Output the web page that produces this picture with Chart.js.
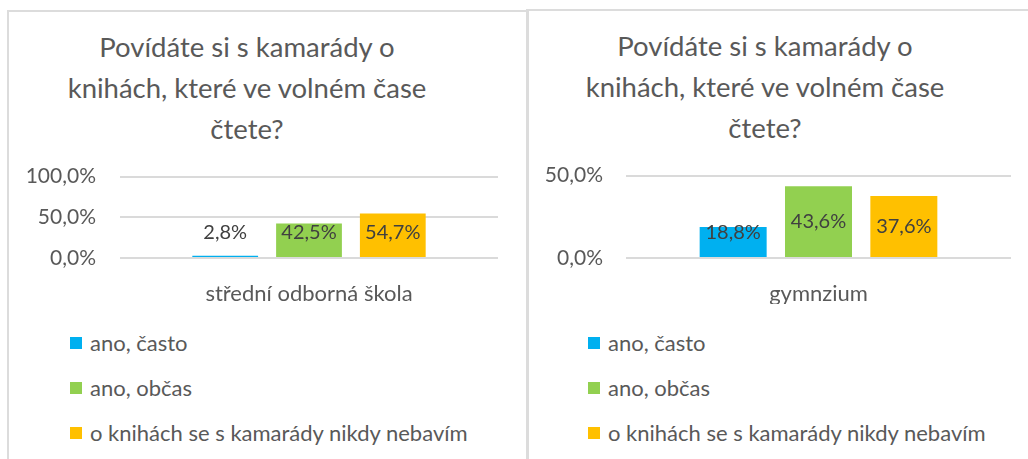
<!DOCTYPE html>
<html>
<head>
<meta charset="utf-8">
<script src="https://cdn.jsdelivr.net/npm/chart.js@4"></script>
<style>
  html, body { margin: 0; padding: 0; background: #fff; width: 1028px; height: 459px; overflow: hidden; position: relative; font-family: Lato, "Noto Sans", sans-serif; }
  .panel { position: absolute; border: 2px solid #DCDCDC; border-bottom: none; box-sizing: border-box; }
  .title { position: absolute; width: 460px; text-align: center; color: #595959; font-size: 27.5px; line-height: 41px; }
  .cv { position: absolute; }
  .legend { position: absolute; color: #595959; font-size: 22px; }
  .legend .item { position: absolute; white-space: nowrap; height: 26px; line-height: 26px; }
  .legend .box { position: absolute; left: 0; top: 7px; width: 12px; height: 12px; }
  .legend .txt { position: absolute; left: 20px; top: 0; }
</style>
</head>
<body>
<div class="panel" style="left:7px; top:10px; width:522px; height:460px;"></div>
<div class="panel" style="left:526px; top:9px; width:520px; height:460px; border-right:none;"></div>

<div class="title" id="title1" style="left:17px; top:26px;"></div>
<div class="title" id="title2" style="left:535px; top:25px;"></div>

<canvas class="cv" id="c1" width="515" height="170" style="left:10px; top:140px; width:515px; height:170px;"></canvas>
<canvas class="cv" id="c2" width="499" height="170" style="left:529px; top:140px; width:499px; height:170px;"></canvas>

<div class="legend" id="leg1" style="left:70px; top:0;"></div>
<div class="legend" id="leg2" style="left:588px; top:0;"></div>

<script>
// ---- data ----
const titleLines = ["Povídáte si s kamarády o", "knihách, které ve volném čase", "čtete?"];
const seriesNames = ["ano, často", "ano, občas", "o knihách se s kamarády nikdy nebavím"];
const seriesColors = ["#00B0F0", "#92D050", "#FFC000"];
const categoriesLeft = ["střední odborná škola"];
const categoriesRight = ["gymnzium"];
const valuesLeft = [2.8, 42.5, 54.7];
const valuesRight = [18.8, 43.6, 37.6];
const yMaxLeft = 100;
const yMaxRight = 50;
const yStep = 50;

// ---- titles & legends (HTML text) ----
function fillTitle(id) {
  document.getElementById(id).innerHTML = titleLines.map(t => '<div>' + t + '</div>').join('');
}
fillTitle('title1'); fillTitle('title2');

function fillLegend(id) {
  const el = document.getElementById(id);
  const centers = [343, 388, 433];
  seriesNames.forEach((n, i) => {
    const it = document.createElement('div');
    it.className = 'item';
    it.style.top = (centers[i] - 13) + 'px';
    it.innerHTML = '<span class="box" style="background:' + seriesColors[i] + '"></span><span class="txt">' + n + '</span>';
    el.appendChild(it);
  });
}
fillLegend('leg1'); fillLegend('leg2');

const fmt = v => v.toFixed(1).replace('.', ',') + '%';

const labelPlugin = {
  id: 'barLabels',
  afterDatasetsDraw(chart) {
    const ctx = chart.ctx;
    ctx.save();
    ctx.font = '20px Lato, "Noto Sans", sans-serif';
    ctx.fillStyle = '#404040';
    ctx.textAlign = 'center';
    ctx.textBaseline = 'middle';
    chart.data.datasets.forEach((ds, di) => {
      const meta = chart.getDatasetMeta(di);
      meta.data.forEach((bar, i) => {
        const y = Math.min((bar.y + bar.base) / 2, bar.base - 24);
        ctx.fillText(fmt(ds.data[i]), bar.x, y);
      });
    });
    ctx.restore();
  }
};

function makeChart(id, cats, vals, yMax, pad, yAxisWidth, tickPad) {
  return new Chart(document.getElementById(id), {
    type: 'bar',
    data: {
      labels: cats,
      datasets: seriesNames.map((n, i) => ({
        label: n,
        data: [vals[i]],
        backgroundColor: seriesColors[i],
        borderWidth: 0,
        categoryPercentage: 0.665,
        barPercentage: 0.785
      }))
    },
    options: {
      responsive: false,
      animation: false,
      devicePixelRatio: 1,
      layout: { padding: pad },
      plugins: { legend: { display: false }, title: { display: false }, tooltip: { enabled: false } },
      scales: {
        x: {
          grid: { display: false },
          border: { display: false },
          ticks: { color: '#595959', font: { family: 'Lato', size: 22 }, padding: 15 },
          afterFit(s) { s.height = 46; }
        },
        y: {
          min: 0, max: yMax,
          ticks: { stepSize: yStep, color: '#595959', font: { family: 'Lato', size: 21 }, padding: tickPad, callback: v => fmt(v) },
          grid: { color: '#DADADA', lineWidth: 2, drawTicks: false },
          border: { display: false },
          afterFit(s) { s.width = yAxisWidth; }
        }
      }
    },
    plugins: [labelPlugin]
  });
}

makeChart('c1', categoriesLeft, valuesLeft, yMaxLeft, { top: 32, bottom: 6, left: 0, right: 27 }, 110, 24);
makeChart('c2', categoriesRight, valuesRight, yMaxRight, { top: 31, bottom: 6, left: 0, right: 17 }, 97, 23);
</script>
</body>
</html>
